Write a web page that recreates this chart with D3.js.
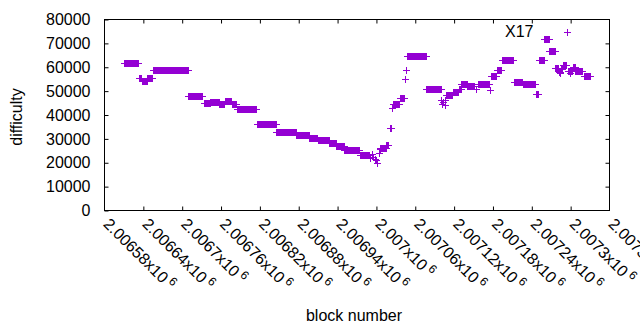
<!doctype html>
<html lang="en">
<head>
  <meta charset="utf-8">
  <title>difficulty by block number</title>
  <script src="https://d3js.org/d3.v7.min.js"></script>
  <style>
    body { margin: 0; background: #fff; }
    text { font-family: 'Liberation Sans', Arial, sans-serif; fill: #000; }
  </style>
</head>
<body>
<div class="chart-container"></div>
<script>
  // runs of consecutive blocks that share one difficulty (single points have from == to)
  const runFrom = [
    2006611, 2006634, 2006638, 2006647, 2006656, 2006710, 2006734, 2006744, 2006758, 2006767,
    2006777, 2006786, 2006816, 2006846, 2006877, 2006897, 2006910, 2006928, 2006939, 2006951,
    2006975, 2006991, 2006994, 2006996, 2006998, 2007000, 2007001, 2007004, 2007006, 2007007,
    2007016, 2007021, 2007025, 2007026, 2007032, 2007037, 2007045, 2007046, 2007048, 2007078,
    2007101, 2007102, 2007104, 2007106, 2007107, 2007108, 2007119, 2007128, 2007132, 2007141,
    2007154, 2007157, 2007176, 2007178, 2007187, 2007194, 2007213, 2007227, 2007247, 2007252,
    2007260, 2007268, 2007277, 2007282, 2007285, 2007286, 2007289, 2007295, 2007296, 2007299,
    2007304, 2007308, 2007321
  ];
  const runTo = [
    2006632, 2006637, 2006646, 2006654, 2006709, 2006732, 2006743, 2006757, 2006766, 2006776,
    2006784, 2006815, 2006845, 2006876, 2006896, 2006909, 2006927, 2006938, 2006950, 2006974,
    2006989, 2006991, 2006994, 2006996, 2006998, 2007000, 2007001, 2007004, 2007006, 2007015,
    2007019, 2007024, 2007025, 2007031, 2007036, 2007044, 2007045, 2007046, 2007077, 2007100,
    2007101, 2007102, 2007104, 2007106, 2007107, 2007118, 2007127, 2007131, 2007140, 2007152,
    2007154, 2007174, 2007176, 2007186, 2007193, 2007211, 2007226, 2007245, 2007251, 2007259,
    2007267, 2007276, 2007281, 2007284, 2007285, 2007288, 2007294, 2007295, 2007303, 2007299,
    2007307, 2007318, 2007330
  ];
  const runDifficulty = [
    61500, 55200, 54000, 55300, 58500, 47900, 44900, 45300, 44300, 45800,
    44600, 42400, 36100, 32800, 31500, 30100, 29300, 27900, 26600, 25300,
    23200, 21950, 23300, 22000, 21250, 21000, 19700, 24000, 25400, 26100,
    27400, 34500, 42800, 44200, 44500, 47000, 54900, 58600, 64400, 50700,
    46200, 44600, 45300, 46000, 43900, 48000, 49450, 50800, 52800, 51900,
    50700, 52800, 50200, 56100, 58750, 62800, 53750, 52800, 48600, 62800,
    71600, 66700, 59500, 57900, 57400, 59000, 60800, 74500, 58200, 57400,
    60100, 58200, 55950
  ];

  const xTicks = [2006580, 2006640, 2006700, 2006760, 2006820, 2006880, 2006940,
    2007000, 2007060, 2007120, 2007180, 2007240, 2007300, 2007360];
  const yTicks = [0, 10000, 20000, 30000, 40000, 50000, 60000, 70000, 80000];

  const width = 640;
  const height = 330;
  const margin = { top: 19.5, right: 30.5, bottom: 119.5, left: 104.5 };
  const purple = '#9400d3';

  const points = [];
  runFrom.forEach((from, i) => {
    for (let b = from; b <= runTo[i]; b++) {
      points.push({ block: b, difficulty: runDifficulty[i] });
    }
  });

  const svg = d3.select('.chart-container').append('svg')
    .attr('width', width)
    .attr('height', height);

  const x = d3.scaleLinear()
    .domain([xTicks[0], xTicks[xTicks.length - 1]])
    .range([margin.left, width - margin.right]);

  const y = d3.scaleLinear()
    .domain([0, 80000])
    .range([height - margin.bottom, margin.top]);

  const fontSize = 16;

  // axes with inward ticks, mirrored on top and right
  const noDomain = g => g.select('.domain').remove();

  svg.append('g')
    .attr('transform', `translate(${margin.left},0)`)
    .call(d3.axisLeft(y).tickValues(yTicks).tickSize(-4).tickPadding(14).tickFormat(d3.format('d')))
    .call(noDomain)
    .call(g => g.selectAll('text').style('font-size', fontSize + 'px').style('font-family', null));

  svg.append('g')
    .attr('transform', `translate(${width - margin.right},0)`)
    .call(d3.axisRight(y).tickValues(yTicks.slice(1, -1)).tickSize(-4).tickFormat(''))
    .call(noDomain);

  svg.append('g')
    .attr('transform', `translate(0,${height - margin.bottom})`)
    .call(d3.axisBottom(x).tickValues(xTicks.slice(1, -1)).tickSize(-4).tickFormat(''))
    .call(noDomain);

  svg.append('g')
    .attr('transform', `translate(0,${margin.top})`)
    .call(d3.axisTop(x).tickValues(xTicks.slice(1, -1)).tickSize(-4).tickFormat(''))
    .call(noDomain);

  svg.selectAll('.tick line').attr('stroke', '#000');

  svg.append('rect')
    .attr('x', margin.left)
    .attr('y', margin.top)
    .attr('width', width - margin.right - margin.left)
    .attr('height', height - margin.bottom - margin.top)
    .attr('fill', 'none')
    .attr('stroke', '#000');

  // rotated x tick labels, mantissa x10^6
  const mantissa = d3.format('.6~g');
  const xLabels = svg.append('g').selectAll('text')
    .data(xTicks)
    .enter()
    .append('text')
    .attr('transform', d => `translate(${x(d) + 2},221) rotate(45)`)
    .attr('dy', '0.35em')
    .style('font-size', fontSize + 'px');
  xLabels.append('tspan').text(d => mantissa(d / 1e6) + 'x10');
  xLabels.append('tspan')
    .attr('dx', 3)
    .attr('dy', -6)
    .style('font-size', '12px')
    .text('6');

  // points
  svg.append('g')
    .attr('shape-rendering', 'crispEdges')
    .selectAll('path')
    .data(points)
    .enter()
    .append('path')
    .attr('d', d => {
      const px = x(d.block);
      const py = y(d.difficulty);
      return `M${px - 3.5},${py}H${px + 3.5}M${px},${py - 3.5}V${py + 3.5}`;
    })
    .attr('stroke', purple)
    .attr('stroke-width', 1)
    .attr('fill', 'none');

  svg.append('text')
    .attr('x', 505)
    .attr('y', 37)
    .style('font-size', fontSize + 'px')
    .text('X17');

  svg.append('text')
    .attr('x', 354)
    .attr('y', 321)
    .attr('text-anchor', 'middle')
    .style('font-size', fontSize + 'px')
    .text('block number');

  svg.append('text')
    .attr('transform', `translate(22,${(margin.top + height - margin.bottom) / 2 + 2}) rotate(-90)`)
    .attr('text-anchor', 'middle')
    .style('font-size', fontSize + 'px')
    .text('difficulty');
</script>
</body>
</html>
